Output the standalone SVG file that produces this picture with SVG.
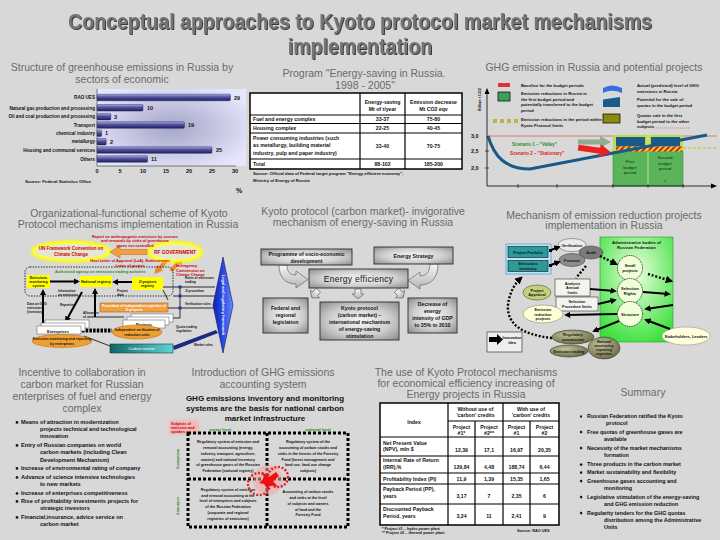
<svg xmlns="http://www.w3.org/2000/svg" width="720" height="540" viewBox="0 0 720 540">
<defs>
<style>
text{font-family:"Liberation Sans",Arial,sans-serif;}
.ttl{font-size:22px;font-weight:bold;text-anchor:middle;fill:#747474;}
.h{font-size:10.5px;fill:#6a6a6a;text-anchor:middle;}
.b{font-weight:bold;fill:#111;}
.c{text-anchor:middle;}
.e{text-anchor:end;}
.bx{fill:url(#gbox);stroke:#3a3a3a;stroke-width:1;}
.bar{fill:url(#gbar);stroke:#1a1a50;stroke-width:0.4;}
.tb{fill:#fff;stroke:#000;stroke-width:1.5;}
.tl{stroke:#000;stroke-width:1.2;}
.dot{fill:none;stroke:#000;stroke-width:2.4;stroke-dasharray:2 1.8;}
.sq{fill:none;stroke:#000;stroke-width:3;stroke-dasharray:3 2;}
.arr{stroke:#000;stroke-width:2;fill:none;marker-end:url(#ah);}
.thin{stroke:#000;stroke-width:0.8;fill:none;}
.red{fill:#cc0000;font-weight:bold;}
.grn{fill:#2a8a2a;font-weight:bold;}
</style>
<radialGradient id="gbox" cx="0.5" cy="0.5" r="0.7"><stop offset="0" stop-color="#f6f6f6"/><stop offset="0.55" stop-color="#cfcfcf"/><stop offset="1" stop-color="#8a8a8a"/></radialGradient>
<linearGradient id="gbar" x1="0" y1="0" x2="0" y2="1"><stop offset="0" stop-color="#a8a8e8"/><stop offset="0.45" stop-color="#50509a"/><stop offset="1" stop-color="#20205a"/></linearGradient>
<radialGradient id="gpanel" cx="0.5" cy="0.5" r="0.6"><stop offset="0" stop-color="#a4a4c8"/><stop offset="1" stop-color="#e6e6fb"/></radialGradient>
<radialGradient id="ggreen" cx="0.5" cy="0.35" r="0.7"><stop offset="0" stop-color="#eaffdf"/><stop offset="1" stop-color="#3ee03e"/></radialGradient>
<linearGradient id="gteal" x1="0" y1="0" x2="1" y2="0"><stop offset="0" stop-color="#0f6666"/><stop offset="1" stop-color="#5ad6d6"/></linearGradient>
<linearGradient id="gblue" x1="0" y1="0" x2="1" y2="0"><stop offset="0" stop-color="#1020b0"/><stop offset="0.5" stop-color="#2a48e0"/><stop offset="1" stop-color="#6a8aff"/></linearGradient>
<radialGradient id="golive" cx="0.4" cy="0.35" r="0.7"><stop offset="0" stop-color="#c4c49a"/><stop offset="1" stop-color="#6a6a44"/></radialGradient>
<linearGradient id="garw" x1="0" y1="0" x2="0" y2="1"><stop offset="0" stop-color="#f8f8f8"/><stop offset="1" stop-color="#b4b4b4"/></linearGradient>
<pattern id="hatch" width="4" height="4" patternUnits="userSpaceOnUse" patternTransform="rotate(45)"><rect width="4" height="4" fill="#f0d020"/><rect width="2" height="4" fill="#d02020"/></pattern>
<filter id="blur" x="-20%" y="-40%" width="140%" height="180%"><feGaussianBlur stdDeviation="1.2"/></filter>
<filter id="shadow" x="-5%" y="-20%" width="110%" height="150%"><feDropShadow dx="0.9" dy="0.9" stdDeviation="0.3" flood-color="#2a2a2a" flood-opacity="1"/></filter>
<marker id="ah" viewBox="0 0 10 10" refX="7" refY="5" markerWidth="3.2" markerHeight="3.2" orient="auto"><path d="M0,0 L10,5 L0,10 z" fill="#000"/></marker>
<marker id="aho" viewBox="0 0 10 10" refX="7" refY="5" markerWidth="2.2" markerHeight="2.2" orient="auto"><path d="M0,0 L10,5 L0,10 z" fill="#e88a30"/></marker>
</defs>
<rect width="720" height="540" fill="#d8d8d8"/>

<g id="title" filter="url(#shadow)">
<text class="ttl" transform="translate(360,29) scale(0.89,1)">Conceptual approaches to Kyoto protocol market mechanisms</text>
<text class="ttl" transform="translate(360,54) scale(0.89,1)">implementation</text>
</g>

<!-- Section 1: bar chart -->
<g id="emission-structure">
<text class="h" x="122" y="71">Structure of greenhouse emissions in Russia by</text>
<text class="h" x="122" y="82.5">sectors of economic</text>
<rect x="97" y="89" width="149" height="77" fill="url(#gpanel)"/>
<line x1="97" y1="89" x2="97" y2="166" stroke="#333" stroke-width="0.6"/>
<line x1="97" y1="166" x2="236" y2="166" stroke="#333" stroke-width="0.6"/>
<g style="font-size:4.6px">
<text x="95" y="99.2" class="b e">RAO UES</text>
<text x="95" y="109.5" class="b e">Natural gas production and processing</text>
<text x="95" y="118.4" class="b e">Oil and coal production and processing</text>
<text x="95" y="126.7" class="b e">Transport</text>
<text x="95" y="135" class="b e">chemical industry</text>
<text x="95" y="143.4" class="b e">metallurgy</text>
<text x="95" y="151.7" class="b e">Housing and communal services</text>
<text x="95" y="160.7" class="b e">Others</text>
</g>
<rect class="bar" x="97" y="94.2" width="133.4" height="6.6" rx="1"/>
<rect class="bar" x="97" y="104.5" width="46" height="6.6" rx="1"/>
<rect class="bar" x="97" y="113.4" width="13.8" height="6.6" rx="1"/>
<rect class="bar" x="97" y="121.7" width="87.4" height="6.6" rx="1"/>
<rect class="bar" x="97" y="130" width="4.6" height="6.6" rx="1"/>
<rect class="bar" x="97" y="138.4" width="9.2" height="6.6" rx="1"/>
<rect class="bar" x="97" y="146.7" width="115" height="6.6" rx="1"/>
<rect class="bar" x="97" y="155.7" width="50.6" height="6.6" rx="1"/>
<g style="font-size:5.5px">
<text class="b" x="234" y="99.5">29</text>
<text class="b" x="147" y="109.8">10</text>
<text class="b" x="114" y="118.7">3</text>
<text class="b" x="188" y="127">19</text>
<text class="b" x="105" y="135.3">1</text>
<text class="b" x="110" y="143.7">2</text>
<text class="b" x="216" y="152">25</text>
<text class="b" x="151" y="161">11</text>
</g>
<g style="font-size:5.5px">
<text class="b c" x="97" y="173">0</text>
<text class="b c" x="120" y="173">5</text>
<text class="b c" x="143" y="173">10</text>
<text class="b c" x="166" y="173">15</text>
<text class="b c" x="189" y="173">20</text>
<text class="b c" x="212" y="173">25</text>
<text class="b c" x="235" y="173">30</text>
</g>
<text class="b" x="25" y="183" style="font-size:4.3px">Source: Federal Statistics Office</text>
<text class="b" x="236" y="193" style="font-size:7px">%</text>
</g>

<!-- Section 2: table energy saving -->
<g id="energy-saving-program">
<text class="h" x="364" y="77">Program "Energy-saving in Russia.</text>
<text class="h" x="365" y="88.5">1998 - 2005"</text>
<rect class="tb" x="250" y="93" width="212" height="76"/>
<line class="tl" x1="360" y1="93" x2="360" y2="169"/>
<line class="tl" x1="405" y1="93" x2="405" y2="169"/>
<line class="tl" x1="250" y1="115" x2="462" y2="115"/>
<line class="tl" x1="250" y1="123.5" x2="462" y2="123.5"/>
<line class="tl" x1="250" y1="133" x2="462" y2="133"/>
<line class="tl" x1="250" y1="159" x2="462" y2="159"/>
<g style="font-size:5.2px">
<text class="b c" x="382.5" y="104">Energy-saving</text>
<text class="b c" x="382.5" y="111">Mt of t/year</text>
<text class="b c" x="433.5" y="104">Emission decrease</text>
<text class="b c" x="433.5" y="111">Mt CO2 eqv</text>
<text class="b" x="253" y="121.2">Fuel and energy complex</text>
<text class="b" x="253" y="130.3">Housing complex</text>
<text class="b" x="253" y="140">Power consuming industries (such</text>
<text class="b" x="253" y="147.3">as metallurgy, building material</text>
<text class="b" x="253" y="154.6">industry, pulp and paper industry)</text>
<text class="b" x="253" y="166">Total</text>
<text class="b c" x="382.5" y="121.2">33-37</text>
<text class="b c" x="433.5" y="121.2">75-80</text>
<text class="b c" x="382.5" y="130.3">22-25</text>
<text class="b c" x="433.5" y="130.3">40-45</text>
<text class="b c" x="382.5" y="148">33-40</text>
<text class="b c" x="433.5" y="148">70-75</text>
<text class="b c" x="382.5" y="166">88-102</text>
<text class="b c" x="433.5" y="166">185-200</text>
</g>
<text class="b" x="253" y="175" style="font-size:4.2px">Source: Official data of Federal target program "Energy-efficient economy",</text>
<text class="b" x="253" y="181.5" style="font-size:4.2px">Ministry of Energy of Russia</text>
</g>

<!-- Section 3: GHG emission chart -->
<g id="ghg-chart">
<text class="h" x="594" y="71">GHG emission in Russia and potential projects</text>
<rect x="498" y="83" width="12" height="4" fill="#e03030"/>
<rect x="498" y="92" width="12" height="9" fill="#3aa05e" stroke="#000" stroke-width="0.7"/>
<g fill="#b8b840"><rect x="493" y="119" width="4" height="4"/><rect x="500" y="119" width="4" height="4"/><rect x="507" y="119" width="4" height="4"/><rect x="514" y="119" width="4" height="4"/></g>
<path d="M603,88 Q612,83 622,88 L622,93 Q612,88.5 603,93 Z" fill="#3a6ee0"/>
<path d="M603,99.5 L620,97 L620,107 L603,107 Z" fill="#1a5a8a"/>
<rect x="603" y="114" width="17" height="9" fill="#8a8a10" stroke="#000" stroke-width="0.7"/>
<g style="font-size:4.2px">
<text class="b" x="521" y="87">Baseline for the budget periods</text>
<text class="b" x="521" y="95">Emission reductions in Russia in</text>
<text class="b" x="521" y="100.5">the first budget period and</text>
<text class="b" x="521" y="106">potentially transferred to the budget</text>
<text class="b" x="521" y="111.5">period</text>
<text class="b" x="521" y="121">Emission reductions in the period within</text>
<text class="b" x="521" y="126.5">Kyoto Protocol limits</text>
<text class="b" x="637" y="87">Actual (predicted) level of GHG</text>
<text class="b" x="637" y="93">emissions in Russia</text>
<text class="b" x="637" y="101">Potential for the sale of</text>
<text class="b" x="637" y="107">quotas in the budget period</text>
<text class="b" x="637" y="117">Quotas sale in the first</text>
<text class="b" x="637" y="122.5">budget period to the other</text>
<text class="b" x="637" y="128">subjects</text>
</g>
<line x1="654" y1="128" x2="690" y2="128" stroke="#e04040" stroke-width="0.6" stroke-dasharray="1 1"/>
<line x1="487" y1="136" x2="717" y2="136" stroke="#e06060" stroke-width="0.8"/>
<rect x="613" y="150" width="70" height="36" fill="#5ab55a" stroke="#3a8a3a" stroke-width="0.6"/>
<rect x="613" y="135" width="35" height="16" fill="#bcdc4a"/>
<rect x="648" y="135" width="35" height="16" fill="#bcdc4a"/>
<rect x="616" y="137" width="29" height="9.5" fill="#1a5a8a"/>
<rect x="651" y="137" width="29" height="9.5" fill="#1a5a8a"/>
<rect x="616" y="146.5" width="66" height="5" fill="url(#hatch)"/>
<line x1="648" y1="135" x2="648" y2="186" stroke="#d8f0a0" stroke-width="0.8"/>
<line x1="683" y1="148" x2="717" y2="148" stroke="#c8c850" stroke-width="1.4" stroke-dasharray="3 2"/>
<path d="M488,136 C494,156 505,169 530,169 L707,135" fill="none" stroke="#1a5a8a" stroke-width="3"/>
<line x1="487" y1="186" x2="713" y2="186" stroke="#000" stroke-width="0.8"/>
<path d="M717,186 L711,183.5 L711,188.5 Z" fill="#000"/>
<line x1="487" y1="186" x2="487" y2="92" stroke="#000" stroke-width="0.8"/>
<path d="M487,88 L484.5,94 L489.5,94 Z" fill="#000"/>
<g stroke="#000" stroke-width="0.6"><line x1="518" y1="184" x2="518" y2="188"/><line x1="557" y1="184" x2="557" y2="188"/><line x1="613" y1="184" x2="613" y2="188"/><line x1="648" y1="184" x2="648" y2="188"/><line x1="683" y1="184" x2="683" y2="188"/><line x1="485" y1="151" x2="489" y2="151"/><line x1="485" y1="168" x2="489" y2="168"/></g>
<g style="font-size:5.5px"><text class="b" x="471" y="138">3,0</text><text class="b" x="471" y="153">2,5</text><text class="b" x="471" y="170">2,0</text></g>
<text class="b" transform="translate(481,111) rotate(-90)" style="font-size:3.8px">Billion t CO2</text>
<path d="M578,139.5 L600,139.5 L600,136 L611,142 L600,148 L600,144.5 L578,144.5 Z" fill="#8fae8f"/>
<path d="M578,147 L600,147 L600,143.5 L611,150 L600,156.5 L600,153 L578,153 Z" fill="#ee2020" transform="rotate(8 595 150)"/>
<text class="grn" x="512" y="146" style="font-size:4.5px">Scenario 1 – "Valley"</text>
<text class="red" x="510" y="155" style="font-size:4.5px;fill:#e02020">Scenario 2 – "Stationary"</text>
<g style="font-size:4.4px" fill="#0f2f0f">
<text class="c" x="630" y="163">First</text><text class="c" x="630" y="168.5">budget</text><text class="c" x="630" y="174">period</text>
<text class="c" x="665" y="159">Second</text><text class="c" x="665" y="164.5">budget</text><text class="c" x="665" y="170">period</text>
<text class="c" x="665" y="183">?</text>
</g>
</g>

<!-- Section 4: organizational-functional scheme -->
<g id="org-scheme">
<text class="h" x="129" y="217">Organizational-functional scheme of Kyoto</text>
<text class="h" x="128" y="228">Protocol mechanisms implementation in Russia</text>
<g id="org-connectors">
<line x1="168" y1="259" x2="156" y2="272" stroke="#e88a30" stroke-width="4" marker-end="url(#aho)"/>
<line x1="171" y1="271" x2="182" y2="258" stroke="#e88a30" stroke-width="4" marker-end="url(#aho)"/>
<line class="arr" x1="50" y1="281.5" x2="78" y2="281.5"/>
<line class="arr" x1="132" y1="282" x2="114" y2="282"/>
<line class="arr" x1="43" y1="326" x2="43" y2="291"/>
<line class="arr" x1="95" y1="317" x2="95" y2="290"/>
<line class="arr" x1="82" y1="292" x2="66" y2="321"/>
<line class="thin" x1="95" y1="317" x2="124" y2="317"/>
<line class="thin" x1="163" y1="287" x2="215" y2="287"/>
<line class="thin" x1="173" y1="296" x2="215" y2="296"/>
<line class="thin" x1="168" y1="308" x2="214" y2="308"/>
<line class="thin" x1="180" y1="287" x2="180" y2="318"/>
<line class="thin" x1="173" y1="318" x2="180" y2="318"/>
<g fill="#1a3aa0"><rect x="178.5" y="285.5" width="3" height="3"/><rect x="178.5" y="294.5" width="3" height="3"/><rect x="178.5" y="306.5" width="3" height="3"/></g>
<line x1="82" y1="330.5" x2="112" y2="330.5" stroke="#000" stroke-width="4" stroke-dasharray="2.5 1.2"/>
<line class="thin" x1="110" y1="346" x2="84" y2="336"/>
<path d="M173,346 L216,330 L218,333 L174,350 Z" fill="#1a2a80"/>
<line class="thin" x1="163" y1="290" x2="168" y2="300"/>
</g>
<g id="node-unfccc">
<ellipse cx="71" cy="251.5" rx="38" ry="9" fill="#e4e4cc" stroke="#ffff00" stroke-width="4" filter="url(#blur)"/>
<ellipse cx="71" cy="251.5" rx="35" ry="7" fill="#e6e6d4"/>
<text class="red c" x="71" y="250" style="font-size:4.5px">UN Framework Convention on</text>
<text class="red c" x="71" y="256" style="font-size:4.5px">Climate Change</text>
</g>
<g id="node-government">
<ellipse cx="175" cy="252" rx="26" ry="9" fill="#e4e4cc" stroke="#ffff00" stroke-width="4" filter="url(#blur)"/>
<ellipse cx="175" cy="252" rx="23" ry="7" fill="#e6e6d4"/>
<text class="red c" x="175" y="254" style="font-size:4.8px">RF GOVERNMENT</text>
</g>
<path d="M110,252 L120,246 L120,249.5 L147,249.5 L147,254.5 L120,254.5 L120,258 Z" fill="#f0a040" stroke="#c07020" stroke-width="0.6"/>
<g style="font-size:3.8px">
<text class="red c" x="135" y="237.5">Report on anthropogenic emissions by sources</text>
<text class="red c" x="135" y="242">and removals by sinks of greenhouse</text>
<text class="red c" x="135" y="246.5">gases not controlled</text>
<text class="red c" x="130" y="262">Host Letter of Approval (LoA), Endorsement</text>
<text class="red c" x="130" y="266.5">Letter of project</text>
<text class="red" x="176" y="267">Interagency</text>
<text class="red" x="176" y="271.5">Commission on</text>
<text class="red" x="176" y="276">Climate Change</text>
</g>
<rect x="25" y="267" width="148" height="29" rx="5" fill="none" stroke="#000" stroke-width="0.8" stroke-dasharray="1.5 1.2"/>
<text class="grn" x="55" y="272.5" style="font-size:3.8px">Authorized agency on emissions trading activities</text>
<g id="node-monitoring">
<rect x="27" y="275" width="23" height="13" fill="#ffff00"/>
<g style="font-size:3.5px"><text class="b c" x="38.5" y="279">Emissions</text><text class="b c" x="38.5" y="283">monitoring</text><text class="b c" x="38.5" y="287">system</text></g>
</g>
<g id="node-registry">
<rect x="80" y="276" width="32" height="11" fill="#ffff00"/>
<text class="b c" x="96" y="283" style="font-size:3.8px">National registry</text>
</g>
<g id="node-ji-registry">
<rect x="132" y="277" width="31" height="13" fill="#ffff00"/>
<g style="font-size:3.6px"><text class="b c" x="147.5" y="282.5">JI projects</text><text class="b c" x="147.5" y="287">registry</text></g>
</g>
<g id="node-legal">
<path d="M223,257 L233,305 L223,353 L213,305 Z" fill="url(#gblue)" stroke="#101060" stroke-width="0.6"/>
<text transform="translate(222,305) rotate(90)" class="c" style="font-size:4px;font-weight:bold" fill="#fff">Legal and regulatory framework</text>
</g>
<g id="node-expertise">
<rect x="100" y="303" width="68" height="9" fill="#f0a040" stroke="#b06020" stroke-width="0.6"/>
<g style="font-size:3.5px"><text class="c" x="134" y="306.8" font-weight="bold" fill="#fff">Procedure of independent expertise of</text><text class="c" x="134" y="310.8" font-weight="bold" fill="#fff">JI projects</text></g>
</g>
<g id="node-projects">
<rect x="131" y="314" width="42" height="8" fill="#fff" stroke="#555" stroke-width="0.5"/>
<rect x="127" y="317" width="42" height="8" fill="#fff" stroke="#555" stroke-width="0.5"/>
<rect x="123" y="320" width="42" height="8" fill="#fff" stroke="#555" stroke-width="0.5"/>
<text class="b c" x="144" y="326" style="font-size:4px">Projects</text>
</g>
<g id="node-verification">
<ellipse cx="137" cy="332" rx="25" ry="7" fill="#f0a030" stroke="#c07010" stroke-width="0.6"/>
<g style="font-size:3.5px"><text class="b c" x="137" y="331">Independent verification of</text><text class="b c" x="137" y="335.5">reduction units</text></g>
</g>
<g id="node-enterprises">
<rect x="45" y="320" width="44" height="8" fill="#fff" stroke="#555" stroke-width="0.5"/>
<rect x="41" y="323" width="44" height="8" fill="#fff" stroke="#555" stroke-width="0.5"/>
<rect x="37" y="326" width="44" height="8" fill="#fff" stroke="#555" stroke-width="0.5"/>
<text class="b c" x="58" y="332.5" style="font-size:4px">Enterprises</text>
</g>
<g id="node-reporting">
<ellipse cx="62" cy="341" rx="30" ry="6.5" fill="#f0a030" stroke="#c07010" stroke-width="0.6"/>
<g style="font-size:3.5px"><text class="b c" x="62" y="340">Emission monitoring and reporting</text><text class="b c" x="62" y="344.5">by enterprises</text></g>
</g>
<g id="node-carbon-market">
<rect x="110" y="344" width="63" height="9" fill="url(#gteal)" stroke="#203a3a" stroke-width="0.6"/>
<text class="c" x="141.5" y="350.2" style="font-size:4px" fill="#fff">Carbon market</text>
</g>
<g style="font-size:3.2px">
<text class="b" x="27" y="305">Data on GHG</text><text class="b" x="27" y="309">emissions</text><text class="b" x="27" y="313">(inventory)</text>
<text class="b" x="58" y="292">Information</text><text class="b" x="58" y="296">on emissions</text>
<text class="b" x="117" y="292">Project</text><text class="b" x="117" y="296">data</text>
<text class="b" x="60" y="306">Reporting</text>
<text class="b" x="83" y="314">Allocation</text><text class="b" x="83" y="318">of units</text>
<text class="b" x="185" y="279">Rules of emissions</text><text class="b" x="185" y="283">trading</text>
<text class="b" x="185" y="292">JI procedure</text><text class="b" x="185" y="305">Verification rules</text>
<text class="b" x="176" y="328">Quota trading</text><text class="b" x="176" y="332">regulation</text>
<text class="b" x="194" y="346">Market rules</text>
</g>
</g>

<!-- Section 5: Kyoto invigorative mechanism -->
<g id="invigorative">
<text class="h" x="363" y="214.5">Kyoto protocol (carbon market)- invigorative</text>
<text class="h" x="363" y="226">mechanism of energy-saving in Russia</text>
<g id="inv-connectors">
<path d="M279,265 L287,265 C287,272 290,275 296,275 L296,271 L308,279.5 L296,288 L296,284 C285,284 279,277 279,265 Z" fill="url(#garw)" stroke="#666" stroke-width="0.7"/>
<path d="M430,264 L438,264 C438,277 432,285 420,285 L420,289 L408,280.5 L420,272 L420,276 C426,276 430,272 430,264 Z" fill="url(#garw)" stroke="#666" stroke-width="0.7"/>
<path d="M355,289 L361,289 L361,294 L364,294 L358,299 L352,294 L355,294 Z" fill="url(#garw)" stroke="#666" stroke-width="0.7"/>
<path d="M312,289 L318,289 L318,294 L321,294 L315,299 L309,294 L312,294 Z" fill="url(#garw)" stroke="#666" stroke-width="0.7" transform="rotate(40 315 294)"/>
<path d="M397,289 L403,289 L403,294 L406,294 L400,299 L394,294 L397,294 Z" fill="url(#garw)" stroke="#666" stroke-width="0.7" transform="rotate(-40 400 294)"/>
</g>
<g id="node-programme"><rect class="bx" x="261" y="249" width="91" height="16"/>
<text class="b c" x="306.5" y="256" style="font-size:5.2px">Programme of socio-economic</text><text class="b c" x="306.5" y="262.5" style="font-size:5.2px">development</text></g>
<g id="node-strategy"><rect class="bx" x="374" y="247" width="79" height="17"/>
<text class="b c" x="413.5" y="257.5" style="font-size:5.2px">Energy Strategy</text></g>
<g id="node-efficiency"><rect class="bx" x="309" y="269" width="99" height="19"/>
<text class="c" x="358.5" y="281.5" style="font-size:8.5px;letter-spacing:0.3px" fill="#111">Energy efficiency</text></g>
<g id="node-legislation"><rect class="bx" x="263" y="298" width="45" height="35"/>
<g style="font-size:5.2px"><text class="b c" x="285.5" y="310">Federal and</text><text class="b c" x="285.5" y="317">regional</text><text class="b c" x="285.5" y="324">legislation</text></g></g>
<g id="node-kyoto"><rect class="bx" x="320" y="302" width="79" height="38"/>
<g style="font-size:5.2px"><text class="b c" x="359.5" y="309.5">Kyoto protocol</text><text class="b c" x="359.5" y="316.5">(carbon market) –</text><text class="b c" x="359.5" y="323.5">international mechanism</text><text class="b c" x="359.5" y="330.5">of energy-saving</text><text class="b c" x="359.5" y="337.5">stimulation</text></g></g>
<g id="node-decrease"><rect class="bx" x="408" y="298" width="49" height="35"/>
<g style="font-size:5.2px"><text class="b c" x="432.5" y="306">Decrease of</text><text class="b c" x="432.5" y="313">energy</text><text class="b c" x="432.5" y="320">intensity of GDP</text><text class="b c" x="432.5" y="327">to 35% to 2010</text></g></g>
</g>

<!-- Section 6: mechanism of emission reduction projects -->
<g id="mechanism">
<text class="h" x="604" y="218.5">Mechanism of emission reduction projects</text>
<text class="h" x="604" y="229">implementation in Russia</text>
<g id="node-admin">
<rect x="600" y="237" width="73" height="105" fill="url(#ggreen)" stroke="#2a9a2a" stroke-width="0.6"/>
<g style="font-size:4.2px"><text class="b c" x="636.5" y="243.5">Administrative bodies of</text><text class="b c" x="636.5" y="249">Russian Federation</text></g>
</g>
<g id="node-small"><circle cx="630" cy="268" r="12.5" fill="#f0ffd8" stroke="#000" stroke-width="0.8" stroke-dasharray="1 0.8"/>
<text class="b c" x="630" y="267" style="font-size:4px">Small</text><text class="b c" x="630" y="272" style="font-size:4px">projects</text></g>
<g id="node-selection"><circle cx="630" cy="291" r="12.5" fill="#f0ffd8" stroke="#000" stroke-width="0.8" stroke-dasharray="1 0.8"/>
<text class="b c" x="630" y="290" style="font-size:4px">Selection</text><text class="b c" x="630" y="295" style="font-size:4px">Rights</text></g>
<g id="node-structure"><circle cx="630" cy="314" r="12.5" fill="#f0ffd8" stroke="#000" stroke-width="0.8" stroke-dasharray="1 0.8"/>
<text class="b c" x="630" y="315.5" style="font-size:4px">Structure</text></g>
<g id="node-portfolio">
<rect x="506" y="244" width="45" height="30" fill="#bfe6f0" stroke="#4aa0d8" stroke-width="0.8"/>
<rect x="508" y="246.5" width="40" height="11" fill="#2a9a9a" stroke="#112" stroke-width="0.6"/>
<rect x="508" y="260.5" width="40" height="11" fill="#2a9a9a" stroke="#112" stroke-width="0.6"/>
<text class="b c" x="528" y="253.5" style="font-size:3.8px">Project Portfolio</text>
<text class="b c" x="528" y="265" style="font-size:3.8px">Emissions</text><text class="b c" x="528" y="269.5" style="font-size:3.8px">Inventory</text>
<g fill="#000"><rect x="549" y="249" width="3" height="3"/><rect x="549" y="264" width="3" height="3"/></g>
</g>
<g id="node-verif2"><ellipse cx="572" cy="245" rx="14" ry="6.5" fill="#ececec" stroke="#666" stroke-width="0.6"/><text class="b c" x="572" y="246.5" style="font-size:3.8px">Verification</text></g>
<g id="node-audit"><ellipse cx="591" cy="252.5" rx="12" ry="6.5" fill="#7a7a7a" stroke="#444" stroke-width="0.6"/><text class="b c" x="591" y="254" style="font-size:3.8px">Audit</text></g>
<g id="node-forecast"><ellipse cx="572" cy="260" rx="13" ry="6.5" fill="#8c8c8c" stroke="#444" stroke-width="0.6"/><text class="b c" x="572" y="261.5" style="font-size:3.8px">Forecast</text></g>
<g id="node-analysis"><rect x="555" y="279" width="35" height="17" fill="#f4f4ee" stroke="#333" stroke-width="0.6"/>
<g style="font-size:3.8px"><text class="b c" x="572.5" y="284.5">Analysis</text><text class="b c" x="572.5" y="289">Annual</text><text class="b c" x="572.5" y="293.5">limits</text></g></g>
<g id="node-procedure"><rect x="556" y="297" width="42" height="14" fill="#f4f4ee" stroke="#333" stroke-width="0.6"/>
<g style="font-size:3.8px"><text class="b c" x="577" y="302.5">Selection</text><text class="b c" x="577" y="307.5">Procedure limits</text></g></g>
<g id="node-appraisal"><ellipse cx="537" cy="292.5" rx="14" ry="7.5" fill="#c4d07e" stroke="#556b2f" stroke-width="0.7"/>
<g style="font-size:3.8px"><text class="b c" x="537" y="291.5">Project</text><text class="b c" x="537" y="296">Appraisal</text></g></g>
<g id="node-er-projects"><ellipse cx="543" cy="314" rx="20" ry="9" fill="#ffffd4" stroke="#888" stroke-width="0.6"/>
<g style="font-size:3.8px"><text class="b c" x="543" y="311">Emission</text><text class="b c" x="543" y="315.5">reduction</text><text class="b c" x="543" y="320">projects</text></g></g>
<g id="node-regulatory"><ellipse cx="573" cy="337" rx="21" ry="7" fill="url(#golive)" stroke="#333" stroke-width="0.6"/>
<g style="font-size:3.8px"><text class="b c" x="573" y="336">Regulatory</text><text class="b c" x="573" y="340.5">commission</text></g></g>
<g id="node-trading"><ellipse cx="569" cy="351" rx="19" ry="6" fill="url(#golive)" stroke="#333" stroke-width="0.6"/>
<text class="b c" x="569" y="352.5" style="font-size:3.8px">Emission trading</text></g>
<g id="node-national"><ellipse cx="604" cy="348" rx="16" ry="11" fill="url(#golive)" stroke="#333" stroke-width="0.6"/>
<g style="font-size:3.6px"><text class="b c" x="604" y="343">National</text><text class="b c" x="604" y="347">monitoring</text><text class="b c" x="604" y="351">reporting</text><text class="b c" x="604" y="355">registries</text></g></g>
<g id="node-stakeholders"><ellipse cx="686" cy="336" rx="24" ry="9" fill="#ffffdc" stroke="#999" stroke-width="0.6"/>
<text class="b c" x="686" y="337.5" style="font-size:4px">Stakeholders, Lenders</text></g>
<g id="node-innovation"><rect x="487" y="332" width="35" height="20" fill="#eeeeee" stroke="#222" stroke-width="0.6"/>
<path d="M489,337 L497,337 L497,334 L503,339.5 L497,345 L497,342 L489,342 Z" fill="#000"/>
<g style="font-size:3.8px"><text class="b c" x="512" y="339">Innovation</text><text class="b c" x="512" y="344">idea</text></g></g>
<g id="mech-connectors">
<line class="arr" x1="551" y1="250" x2="559" y2="247"/>
<line class="arr" x1="551" y1="265" x2="559" y2="262"/>
<path class="dot" d="M600,256 L616,264" marker-end="url(#ah)"/>
<path class="dot" d="M586,266 L576,278"/>
<path class="dot" d="M648,274 L671,281" marker-end="url(#ah)"/>
<path class="dot" d="M552,338 Q506,333 508,305 Q510,288 521,278" marker-end="url(#ah)"/>
<line class="arr" x1="590" y1="289" x2="615" y2="291"/>
<line class="arr" x1="598" y1="304" x2="615" y2="300"/>
<line class="arr" x1="643" y1="292" x2="669" y2="294"/>
<line class="arr" x1="673" y1="305" x2="646" y2="309"/>
<line class="arr" x1="617" y1="314" x2="566" y2="315"/>
<line class="arr" x1="619" y1="321" x2="594" y2="331"/>
<line class="arr" x1="670" y1="329" x2="646" y2="320"/>
</g>
</g>

<!-- Section 7: incentives -->
<g id="incentives">
<text class="h" x="82" y="376">Incentive to collaboration in</text>
<text class="h" x="82" y="388">carbon market for Russian</text>
<text class="h" x="82" y="400">enterprises of fuel and energy</text>
<text class="h" x="82" y="411.5">complex</text>
<g fill="#111"><rect x="15.8" y="421.2" width="2.4" height="2.4"/><rect x="15.8" y="444.2" width="2.4" height="2.4"/><rect x="15.8" y="467.2" width="2.4" height="2.4"/><rect x="15.8" y="476.2" width="2.4" height="2.4" transform="rotate(45 17 477.4)"/><rect x="15.8" y="492.2" width="2.4" height="2.4" transform="rotate(45 17 493.4)"/><rect x="15.8" y="500.2" width="2.4" height="2.4"/><rect x="15.8" y="516.2" width="2.4" height="2.4"/></g>
<g style="font-size:5.6px">
<text class="b" x="21" y="424">Means of attraction in modernization</text>
<text class="b" x="40" y="431">projects technical and technological</text>
<text class="b" x="40" y="438">innovation</text>
<text class="b" x="21" y="447">Entry of Russian companies on world</text>
<text class="b" x="40" y="454">carbon markets (including Clean</text>
<text class="b" x="40" y="461.5">Development Mechanism)</text>
<text class="b" x="21" y="470">Increase of environmental rating of company</text>
<text class="b" x="21" y="479">Advance of science intensive technologies</text>
<text class="b" x="40" y="486">to new markets</text>
<text class="b" x="21" y="495">Increase of enterprises competitiveness</text>
<text class="b" x="21" y="503">Rise of profitability investments projects for</text>
<text class="b" x="40" y="510">strategic investors</text>
<text class="b" x="21" y="519">Financial,insurance, advice service on</text>
<text class="b" x="40" y="526">carbon market</text>
</g>
</g>

<!-- Section 8: GHG accounting -->
<g id="accounting">
<text class="h" x="263" y="376">Introduction of GHG emissions</text>
<text class="h" x="263" y="388">accounting system</text>
<g style="font-size:8px" fill="#111">
<text class="c" x="265" y="401" font-weight="bold">GHG emissions inventory and monitoring</text>
<text class="c" x="265" y="411" font-weight="bold">systems are the basis for national carbon</text>
<text class="c" x="265" y="421" font-weight="bold">market infrastructure</text>
</g>
<rect x="169" y="420" width="30" height="14" fill="#f2b8b8" filter="url(#blur)"/>
<g style="font-size:3.7px"><text class="red" x="171" y="424.5">Subjects of</text><text class="red" x="171" y="428.8">emission and</text><text class="red" x="171" y="433">uptakes</text></g>
<text class="grn c" x="220" y="431" style="font-size:4px">sector level</text>
<text class="grn c" x="318" y="431" style="font-size:4px">national level</text>
<text class="grn c" transform="translate(177,459) rotate(90)" style="font-size:4px">mandatory</text>
<text class="grn c" transform="translate(177,506) rotate(90)" style="font-size:4px">voluntary</text>
<rect class="sq" x="188" y="433" width="160" height="94"/>
<line class="sq" x1="267" y1="433" x2="267" y2="527"/>
<line class="sq" x1="188" y1="479" x2="348" y2="479"/>
<g style="font-size:3.7px">
<text class="b c" x="228" y="443">Regulatory system of emission and</text>
<text class="b c" x="228" y="449">removal accounting (energy,</text>
<text class="b c" x="228" y="455">industry, transport, agriculture,</text>
<text class="b c" x="228" y="460.5">wastes) and national inventory</text>
<text class="b c" x="228" y="466">of greenhouse gases of the Russian</text>
<text class="b c" x="228" y="471.5">Federation (national registry)</text>
<text class="b c" x="308" y="443">Regulatory system of the</text>
<text class="b c" x="308" y="449">accounting of carbon stocks and</text>
<text class="b c" x="308" y="455">sinks in the forests of the Forestry</text>
<text class="b c" x="308" y="460.5">Fund (forest management and</text>
<text class="b c" x="308" y="466">land use, land-use change</text>
<text class="b c" x="308" y="471.5">subjects)</text>
<text class="b c" x="228" y="490.5">Regulatory system of emission</text>
<text class="b c" x="228" y="496.5">and removal accounting at the</text>
<text class="b c" x="228" y="502">level of enterprises and subjects</text>
<text class="b c" x="228" y="508">of the Russian Federation</text>
<text class="b c" x="228" y="514">(corporate and regional</text>
<text class="b c" x="228" y="519.5">registries of emissions)</text>
<text class="b c" x="308" y="493">Accounting of carbon stocks</text>
<text class="b c" x="308" y="499">and sinks at the level</text>
<text class="b c" x="308" y="505">of subjects and owners</text>
<text class="b c" x="308" y="510.5">of land and the</text>
<text class="b c" x="308" y="516">Forestry Fund</text>
</g>
<g id="red-ornament">
<circle cx="268" cy="480" r="15" fill="#f4a0a0" opacity="0.55" filter="url(#blur)"/>
<circle cx="259" cy="484" r="11" fill="none" stroke="#e02020" stroke-width="2.4" stroke-dasharray="2 1.6"/>
<circle cx="278" cy="477" r="10" fill="none" stroke="#e02020" stroke-width="2.4" stroke-dasharray="2 1.6"/>
<path d="M262,472 L269,477 L276,472 L279,476 L273,481 L278,487 L270,485 L268,490 L264,484 L259,483 L264,478 Z" fill="#ee1010"/>
</g>
</g>

<!-- Section 9: table economical efficiency -->
<g id="efficiency-table">
<text class="h" x="466" y="375.5">The use of Kyoto Protocol mechanisms</text>
<text class="h" x="466" y="387">for economical efficiency increasing of</text>
<text class="h" x="466" y="398">Energy projects in Russia</text>
<rect class="tb" x="380" y="403" width="179" height="122"/>
<line class="tl" x1="448" y1="403" x2="448" y2="525"/>
<line class="tl" x1="503" y1="403" x2="503" y2="525"/>
<line class="tl" x1="475" y1="421" x2="475" y2="525"/>
<line class="tl" x1="530" y1="421" x2="530" y2="525"/>
<line class="tl" x1="448" y1="421" x2="559" y2="421"/>
<line class="tl" x1="380" y1="437" x2="559" y2="437"/>
<line class="tl" x1="380" y1="456" x2="559" y2="456"/>
<line class="tl" x1="380" y1="473" x2="559" y2="473"/>
<line class="tl" x1="380" y1="484" x2="559" y2="484"/>
<line class="tl" x1="380" y1="504" x2="559" y2="504"/>
<g style="font-size:5.2px">
<text class="b c" x="414" y="423.5">Index</text>
<text class="b c" x="475.5" y="410.5">Without use of</text>
<text class="b c" x="475.5" y="417">'carbon' credits</text>
<text class="b c" x="531" y="410.5">With use of</text>
<text class="b c" x="531" y="417">'carbon' credits</text>
<text class="b c" x="461.5" y="428.5">Project</text><text class="b c" x="461.5" y="434.5">#1*</text>
<text class="b c" x="489" y="428.5">Project</text><text class="b c" x="489" y="434.5">#2**</text>
<text class="b c" x="516.5" y="428.5">Project</text><text class="b c" x="516.5" y="434.5">#1</text>
<text class="b c" x="544.5" y="428.5">Project</text><text class="b c" x="544.5" y="434.5">#2</text>
<text class="b" x="383" y="444.5">Net Present Value</text>
<text class="b" x="383" y="451">(NPV), mln $</text>
<text class="b" x="383" y="462">Internal Rate of Return</text>
<text class="b" x="383" y="468.5">(IRR),%</text>
<text class="b" x="383" y="480.5">Profitability Index (PI)</text>
<text class="b" x="383" y="491">Payback Period (PP),</text>
<text class="b" x="383" y="498">years</text>
<text class="b" x="383" y="511">Discounted Payback</text>
<text class="b" x="383" y="518">Period, years</text>
<text class="b c" x="461.5" y="452">12,39</text><text class="b c" x="489" y="452">17,1</text><text class="b c" x="516.5" y="452">16,97</text><text class="b c" x="544.5" y="452">20,35</text>
<text class="b c" x="461.5" y="469">129,84</text><text class="b c" x="489" y="469">4,48</text><text class="b c" x="516.5" y="469">188,74</text><text class="b c" x="544.5" y="469">6,44</text>
<text class="b c" x="461.5" y="480.5">11,9</text><text class="b c" x="489" y="480.5">1,39</text><text class="b c" x="516.5" y="480.5">15,35</text><text class="b c" x="544.5" y="480.5">1,65</text>
<text class="b c" x="461.5" y="498">3,17</text><text class="b c" x="489" y="498">7</text><text class="b c" x="516.5" y="498">2,35</text><text class="b c" x="544.5" y="498">6</text>
<text class="b c" x="461.5" y="518">3,24</text><text class="b c" x="489" y="518">11</text><text class="b c" x="516.5" y="518">2,41</text><text class="b c" x="544.5" y="518">9</text>
</g>
<g style="font-size:3.8px">
<text class="b" x="382" y="529.5">* Project #1 – hydro power plant</text>
<text class="b" x="382" y="534">** Project #2 – thermal power plant</text>
<text class="b" x="517" y="532">Source: RAO UES</text>
</g>
</g>

<!-- Section 10: Summary -->
<g id="summary">
<text class="h" x="643" y="396">Summary</text>
<g fill="#111">
<rect x="580" y="415.5" width="2" height="2"/>
<rect x="580" y="431" width="2.2" height="2.2" transform="rotate(45 581.1 432.1)"/>
<rect x="580" y="447" width="2.2" height="2.2" transform="rotate(45 581.1 448.1)"/>
<rect x="580" y="463.5" width="2.2" height="2.2" transform="rotate(45 581.1 464.6)"/>
<rect x="580" y="471.5" width="2.2" height="2.2"/>
<rect x="580" y="480" width="2.2" height="2.2" transform="rotate(45 581.1 481.1)"/>
<rect x="580" y="496" width="2.2" height="2.2" transform="rotate(45 581.1 497.1)"/>
<rect x="580" y="512" width="2.2" height="2.2" transform="rotate(45 581.1 513.1)"/>
</g>
<g style="font-size:5.4px">
<text class="b" x="587" y="418">Russian Federation ratified the Kyoto</text>
<text class="b" x="606" y="425">protocol</text>
<text class="b" x="587" y="433.5">Free quotas of greenhouse gases are</text>
<text class="b" x="604" y="440.5">available</text>
<text class="b" x="587" y="449.5">Necessity of the market mechanisms</text>
<text class="b" x="604" y="456.5">formation</text>
<text class="b" x="587" y="466">Three products in the carbon market</text>
<text class="b" x="587" y="474">Market sustainability and flexibility</text>
<text class="b" x="587" y="482.5">Greenhouse gases accounting and</text>
<text class="b" x="604" y="489.5">monitoring</text>
<text class="b" x="587" y="498.5">Legislative stimulation of the energy-saving</text>
<text class="b" x="604" y="506">and GHG emission reduction</text>
<text class="b" x="587" y="514.5">Regularity tenders for the GHG quotas</text>
<text class="b" x="604" y="522">distribution among the Administrative</text>
<text class="b" x="604" y="528.5">Units</text>
</g>
</g>
</svg>
